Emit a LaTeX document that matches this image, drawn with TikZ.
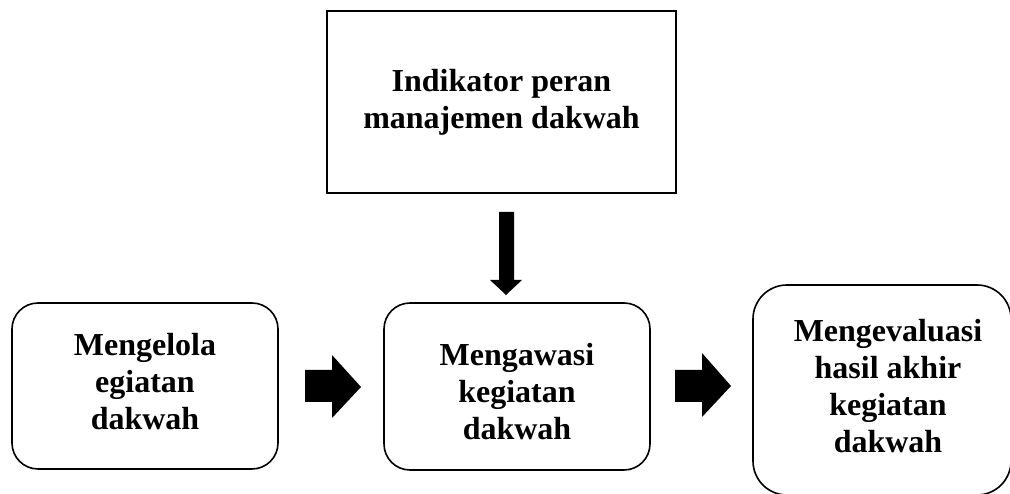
\documentclass[tikz,border=0pt]{standalone}
\usepackage{fontspec}
\setmainfont{Liberation Serif}
\begin{document}
\begin{tikzpicture}[x=1pt,y=1pt,
  txt/.style={font=\fontsize{32}{37}\selectfont\bfseries, align=center},
  box/.style={draw=black, line width=1.6pt, inner sep=0pt},
  rbox/.style={box, rounded corners=26pt},
  blockarrow/.style={fill=black, draw=none}]
\useasboundingbox (0,0) rectangle (1010,494);
\begin{scope}
\clip (0,0) rectangle (1010,494);
% boxes
\node[box, minimum width=349pt, minimum height=182pt, txt] (top) at (501.5,392) {Indikator peran\\manajemen dakwah};
\node[rbox, minimum width=266pt, minimum height=166pt] (left) at (145,108) {};
\node[txt] (lefttext) at (145,112) {Mengelola\\egiatan\\dakwah};
\node[rbox, minimum width=266pt, minimum height=167pt] (mid) at (517,107.5) {};
\node[txt] (midtext) at (517,102) {Mengawasi\\kegiatan\\dakwah};
\node[box, rounded corners=34pt, minimum width=258pt, minimum height=210pt] (right) at (882,104) {};
\node[txt] (righttext) at (888,108) {Mengevaluasi\\hasil akhir\\kegiatan\\dakwah};
\end{scope}
% block arrows
\fill[blockarrow] (499,282) -- (514,282) -- (514,214) -- (522,214) -- (506,199) -- (490,214) -- (499,214) -- cycle;
\fill[blockarrow] (305,124) -- (332,124) -- (332,139) -- (361,107) -- (332,76) -- (332,92) -- (305,92) -- cycle;
\fill[blockarrow] (675,124) -- (702,124) -- (702,141) -- (731,108) -- (702,77) -- (702,92) -- (675,92) -- cycle;
\end{tikzpicture}
\end{document}
